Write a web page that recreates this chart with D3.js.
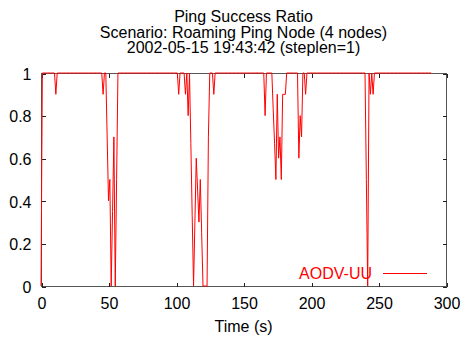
<!DOCTYPE html>
<html>
<head>
<meta charset="utf-8">
<script src="https://cdn.jsdelivr.net/npm/d3@7"></script>
<style>
  body { margin: 0; background: #fff; }
  svg text { font-family: "Liberation Sans", Arial, sans-serif; font-size: 16px; fill: #000; }
</style>
</head>
<body>
<div id="chart"></div>
<script>
// title lines, as printed by gnuplot
const titleLines = [
  "Ping Success Ratio",
  "Scenario: Roaming Ping Node (4 nodes)",
  "2002-05-15 19:43:42 (steplen=1)"
];
const seriesName = "AODV-UU";
const xTicks = [0, 50, 100, 150, 200, 250, 300];
const yTicks = [0, 0.2, 0.4, 0.6, 0.8, 1];
const yTickLabels = ["0", "0.2", "0.4", "0.6", "0.8", "1"];

// success ratio, one sample per second (steplen=1), t = 0 .. 289
const ratio = [
  0, 1, 1, 1, 1, 1, 1, 1, 1, 1, 1, 0.9, 1, 1, 1, 1, 1, 1, 1, 1,
  1, 1, 1, 1, 1, 1, 1, 1, 1, 1, 1, 1, 1, 1, 1, 1, 1, 1, 1, 1,
  1, 1, 1, 1, 1, 1, 0.9, 1, 1, 0.7, 0.4, 0.5, 0, 0.35, 0.7, 0, 0.5, 1, 1, 1,
  1, 1, 1, 1, 1, 1, 1, 1, 1, 1, 1, 1, 1, 1, 1, 1, 1, 1, 1, 1,
  1, 1, 1, 1, 1, 1, 1, 1, 1, 1, 1, 1, 1, 1, 1, 1, 1, 1, 1, 1,
  1, 1, 0.9, 1, 1, 1, 1, 0.9, 1, 0.8, 1, 0.67, 0.33, 0, 0.3, 0.6, 0.45, 0.3, 0.5, 0.25,
  0, 0, 0, 0, 0.7, 1, 1, 1, 0.9, 1, 1, 1, 1, 1, 1, 1, 1, 1, 1, 1,
  1, 1, 1, 1, 1, 1, 1, 1, 1, 1, 1, 1, 1, 1, 1, 1, 1, 1, 1, 1,
  1, 1, 1, 1, 1, 1, 0.8, 1, 1, 1, 1, 1, 0.83, 0.67, 0.5, 0.9, 0.6, 0.7, 0.5, 0.9,
  0.9, 0.9, 1, 1, 1, 1, 1, 1, 1, 1, 1, 0.6, 0.8, 0.7, 1, 1, 0.9, 1, 1, 1,
  1, 1, 1, 1, 1, 1, 1, 1, 1, 1, 1, 1, 1, 1, 1, 1, 1, 1, 1, 1,
  1, 1, 1, 1, 1, 1, 1, 1, 1, 1, 1, 1, 1, 1, 1, 1, 1, 1, 1, 1,
  1, 0.5, 0, 1, 0.9, 1, 0.9, 1, 1, 1, 1, 1, 1, 1, 1, 1, 1, 1, 1, 1,
  1, 1, 1, 1, 1, 1, 1, 1, 1, 1, 1, 1, 1, 1, 1, 1, 1, 1, 1, 1,
  1, 1, 1, 1, 1, 1, 1, 1, 1, 1
];
const steplen = 1;

let fullWidth = 462, fullHeight = 339;
let margin = {top: 73, right: 16, bottom: 53, left: 41},
  width = fullWidth - margin.left - margin.right,
  height = fullHeight - margin.top - margin.bottom;

let x = d3.scaleLinear().domain([0, 300]).range([0, width]);
let y = d3.scaleLinear().domain([0, 1]).range([height, 0]);

let svg = d3.select("#chart").append("svg")
  .attr("width", fullWidth)
  .attr("height", fullHeight);

// titles
svg.append("g").selectAll("text")
  .data(titleLines)
  .enter().append("text")
  .attr("x", margin.left + width / 2)
  .attr("y", (d, i) => 22 + i * 15.7)
  .attr("text-anchor", "middle")
  .text(d => d);

let g = svg.append("g")
  .attr("transform", "translate(" + margin.left + "," + margin.top + ")");

// border box
g.append("rect")
  .attr("x", 0.5).attr("y", 0.5)
  .attr("width", width).attr("height", height)
  .attr("fill", "none")
  .attr("stroke", "#555")
  .attr("stroke-width", 1)
  .attr("shape-rendering", "crispEdges");

// ticks on all four sides, pointing inward
let xAxis = d3.axisBottom(x).tickValues(xTicks).tickSizeInner(-4).tickSizeOuter(0);
let xAxisTop = d3.axisTop(x).tickValues(xTicks).tickSizeInner(-4).tickSizeOuter(0).tickFormat("");
let yAxis = d3.axisLeft(y).tickValues(yTicks).tickSizeInner(-4).tickSizeOuter(0)
  .tickFormat((d, i) => yTickLabels[i]);
let yAxisRight = d3.axisRight(y).tickValues(yTicks).tickSizeInner(-4).tickSizeOuter(0).tickFormat("");

let gx = g.append("g").attr("transform", "translate(0.5," + (height + 0.5) + ")").call(xAxis);
g.append("g").attr("transform", "translate(0.5,0.5)").call(xAxisTop);
let gy = g.append("g").attr("transform", "translate(0.5,0.5)").call(yAxis);
g.append("g").attr("transform", "translate(" + (width + 0.5) + ",0.5)").call(yAxisRight);

g.selectAll(".domain").remove();
g.selectAll(".tick line").attr("stroke", "#222").attr("shape-rendering", "crispEdges");
g.selectAll(".tick text").attr("font-size", null).attr("font-family", null).attr("fill", "#000");

gx.selectAll(".tick text").attr("y", 22).attr("dy", null);
gy.selectAll(".tick text").attr("x", -10).attr("dy", "0.36em");

// x axis label
svg.append("text")
  .attr("x", margin.left + width / 2)
  .attr("y", 332)
  .attr("text-anchor", "middle")
  .text("Time (s)");

// the series
let line = d3.line()
  .x((d, i) => x(i * steplen))
  .y(d => y(d));

g.append("path")
  .datum(ratio)
  .attr("fill", "none")
  .attr("stroke", "#ff0000")
  .attr("stroke-width", 1)
  .attr("d", line);

// legend, bottom right inside the plot
let legend = g.append("g").attr("transform", "translate(0," + (height - 13) + ")");
legend.append("text")
  .attr("x", 331)
  .attr("y", 5.5)
  .attr("text-anchor", "end")
  .attr("fill", "#ff0000")
  .style("fill", "#ff0000")
  .text(seriesName);
legend.append("line")
  .attr("x1", 342).attr("x2", 386)
  .attr("y1", 0.5).attr("y2", 0.5)
  .attr("stroke", "#ff0000")
  .attr("stroke-width", 1);
</script>
</body>
</html>
